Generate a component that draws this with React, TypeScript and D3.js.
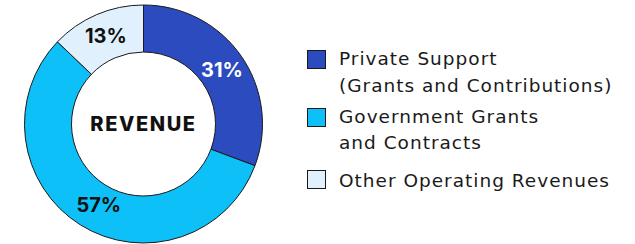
import React from "react";
import { arc, pie, PieArcDatum } from "d3";

const categories = [
  "Private Support",
  "Government Grants",
  "Other Operating Revenues",
];
const legendLines = [
  ["Private Support", "(Grants and Contributions)"],
  ["Government Grants", "and Contracts"],
  ["Other Operating Revenues"],
];
const values = [31, 57, 13];
const colors = ["#2b4bbf", "#0dc0f8", "#e1f0fd"];
const labelColors = ["#ffffff", "#111111", "#111111"];

interface Slice {
  name: string;
  value: number;
}

const WIDTH = 635;
const HEIGHT = 244;
const CX = 143.5;
const CY = 124;
const OUTER = 119;
const INNER = 72;
const FONT = "Inter, 'Noto Sans', sans-serif";
const LEGEND_FONT = "'DejaVu Sans', sans-serif";

const App = () => {
  const data: Slice[] = categories.map((name, i) => ({ name, value: values[i] }));
  const pieGen = pie<Slice>()
    .value((d) => d.value)
    .sort(null);
  const arcs = pieGen(data);
  const arcGen = arc<PieArcDatum<Slice>>()
    .innerRadius(INNER)
    .outerRadius(OUTER);

  // legend rows: square top + text baselines
  const legendRows = [
    { top: 50, baselines: [65, 92] },
    { top: 108, baselines: [123, 149] },
    { top: 170, baselines: [187] },
  ];

  return (
    <svg
      width={WIDTH}
      height={HEIGHT}
      style={{ position: "absolute", left: 0, top: 0, background: "#fff" }}
      fontFamily={FONT}
    >
      <g transform={`translate(${CX}, ${CY})`}>
        {arcs.map((a, i) => (
          <path
            key={a.data.name}
            d={arcGen(a) || ""}
            fill={colors[i]}
            stroke="#1a1a1a"
            strokeWidth={1}
          />
        ))}
        {arcs.map((a, i) => {
          const [x, y] = arcGen.centroid(a);
          return (
            <text
              key={"l" + i}
              x={x + (i === 1 ? 6 : 0)}
              y={y}
              dy="0.36em"
              textAnchor="middle"
              fontSize={20}
              fontWeight={700}
              fill={labelColors[i]}
            >
              {a.data.value}%
            </text>
          );
        })}
        <text
          x={0}
          y={7}
          textAnchor="middle"
          fontSize={20}
          fontWeight={800}
          letterSpacing={1.6}
          fill="#111"
        >
          REVENUE
        </text>
      </g>
      <g fontFamily={LEGEND_FONT}>
        {legendRows.map((row, i) => (
          <g key={"lg" + i}>
            <rect
              x={307.5}
              y={row.top + 0.5}
              width={18}
              height={18}
              fill={colors[i]}
              stroke="#1a1a1a"
              strokeWidth={1}
            />
            {legendLines[i].map((line, j) => (
              <text
                key={j}
                x={339}
                y={row.baselines[j]}
                fontSize={18.5}
                letterSpacing={1}
                fill="#1a1a1a"
              >
                {line}
              </text>
            ))}
          </g>
        ))}
      </g>
    </svg>
  );
};

export default App;
